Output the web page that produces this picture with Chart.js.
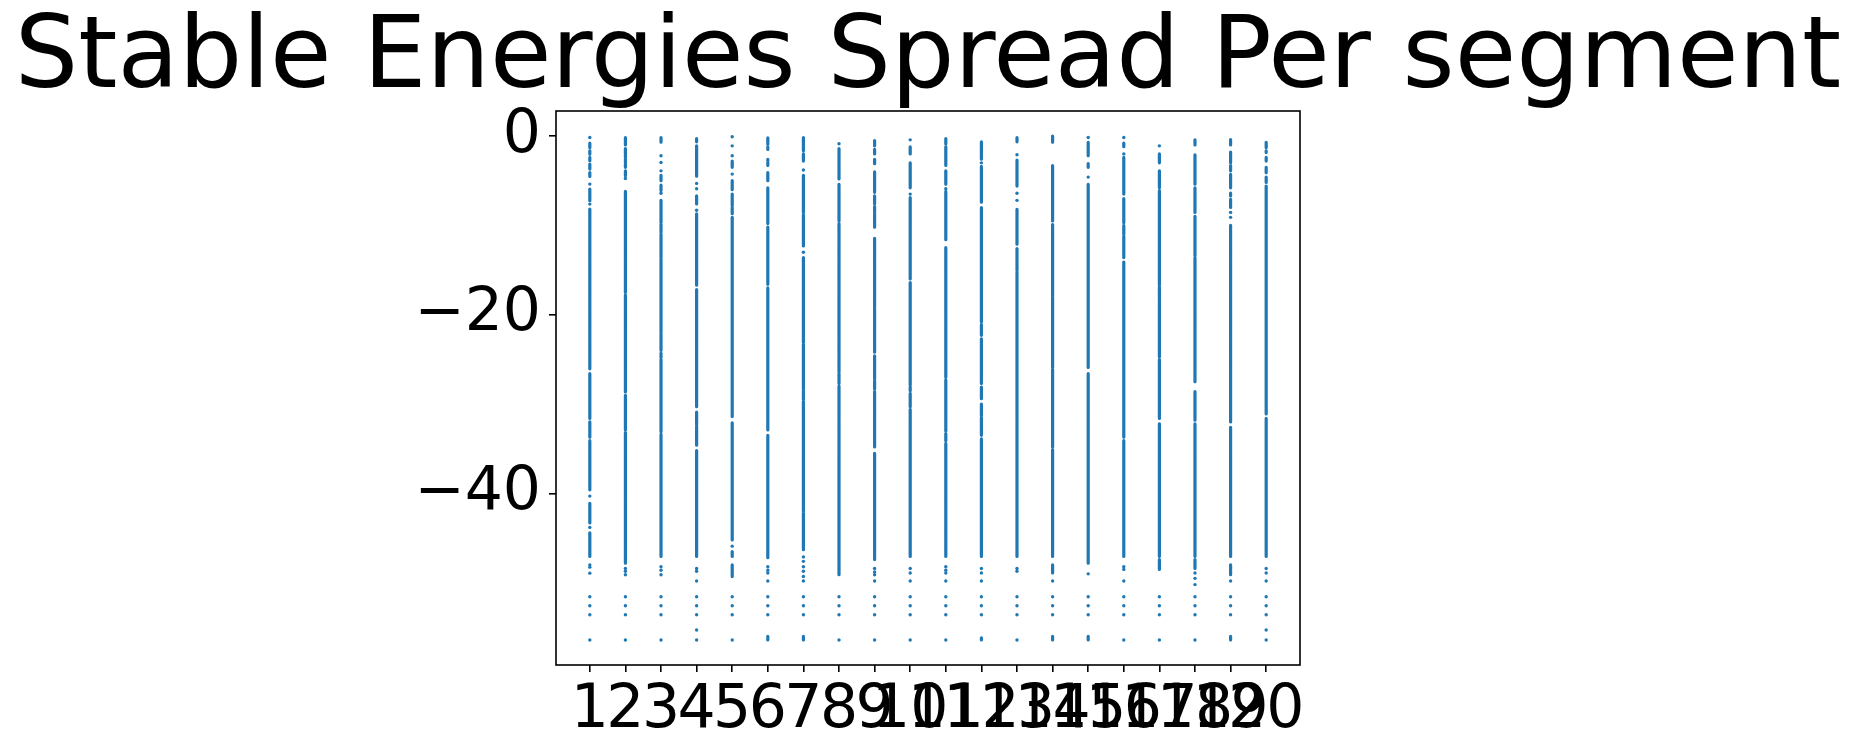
<!DOCTYPE html>
<html><head><meta charset="utf-8">
<script src="https://cdn.jsdelivr.net/npm/chart.js@4.4.1/dist/chart.umd.min.js"></script>
<style>html,body{margin:0;padding:0;background:#fff}</style>
</head><body>
<canvas id="c" width="1856" height="755"></canvas>
<script>
const titleText = 'Stable Energies Spread Per segment';
const segments = [1,2,3,4,5,6,7,8,9,10,11,12,13,14,15,16,17,18,19,20];
const xTicks = [1,2,3,4,5,6,7,8,9,10,11,12,13,14,15,16,17,18,19,20];
const yTicks = [-40,-20,0];

// dense stretches of energies per segment: [upper, lower]
const denseRuns = [
 [[-0.8,-1.3],[-1.66,-2.03],[-2.4,-2.77],[-3.15,-3.7],[-4.08,-4.52],[-5.94,-7.24],[-8.17,-26.05],[-26.6,-31.6],[-32.0,-33.7],[-34.1,-39.6],[-41.1,-43.3],[-44.4,-47.06]],
 [[-0.17,-1.0],[-1.4,-2.4],[-2.6,-3.0],[-3.15,-3.5],[-3.9,-4.45],[-6.2,-17.5],[-17.8,-28.65],[-29.03,-32.9],[-33.2,-47.8]],
 [[-0.17,-0.7],[-4.4,-5.0],[-5.5,-6.1],[-7.2,-9.7],[-9.9,-10.8],[-11.0,-13.65],[-13.8,-22.0],[-22.1,-24.0],[-24.3,-24.8],[-25.0,-33.1],[-33.4,-47.06]],
 [[-0.3,-0.65],[-1.1,-4.5],[-6.7,-7.6],[-8.7,-16.7],[-17.2,-30.3],[-30.9,-32.3],[-32.5,-34.6],[-35.2,-47.06]],
 [[-2.8,-3.5],[-5.0,-6.0],[-6.5,-7.8],[-8.0,-8.7],[-9.1,-31.4],[-32.1,-45.2],[-46.5,-47.06],[-48.0,-49.3]],
 [[-0.2,-0.95],[-1.25,-1.5],[-2.6,-2.8],[-3.0,-3.3],[-4.1,-5.0],[-5.8,-9.8],[-10.2,-16.6],[-17.0,-32.9],[-33.5,-47.2],[-56.0,-56.4]],
 [[-0.17,-1.66],[-2.0,-2.8],[-4.4,-8.55],[-8.8,-12.3],[-13.6,-23.1],[-23.3,-28.3],[-28.5,-29.5],[-29.7,-42.0],[-42.2,-46.3],[-56.0,-56.4]],
 [[-1.4,-4.8],[-5.4,-9.5],[-9.8,-26.4],[-26.6,-27.7],[-28.0,-49.1]],
 [[-0.5,-1.1],[-1.5,-2.0],[-2.6,-3.1],[-4.0,-6.3],[-6.7,-7.6],[-7.9,-8.55],[-8.7,-10.2],[-11.45,-19.2],[-19.3,-24.2],[-24.6,-27.2],[-27.4,-28.3],[-28.6,-34.8],[-35.5,-47.4]],
 [[-1.2,-2.0],[-3.0,-5.8],[-6.9,-16.0],[-16.4,-25.0],[-25.1,-27.9],[-28.1,-28.5],[-28.8,-30.3],[-30.6,-47.06]],
 [[-0.3,-0.9],[-1.2,-3.3],[-3.9,-5.4],[-6.2,-11.6],[-12.5,-27.0],[-27.3,-33.0],[-33.3,-34.1],[-34.4,-47.06]],
 [[-0.65,-2.6],[-3.4,-7.4],[-8.0,-20.8],[-21.1,-22.3],[-22.7,-27.7],[-28.1,-29.4],[-30.0,-31.3],[-31.5,-33.5],[-33.9,-47.06],[-56.15,-56.4]],
 [[-0.17,-0.65],[-2.7,-5.6],[-8.2,-12.1],[-12.6,-15.1],[-15.25,-47.06]],
 [[0.0,-0.7],[-3.3,-9.5],[-9.9,-17.85],[-18.0,-25.9],[-26.1,-34.8],[-35.1,-47.06],[-48.0,-48.9],[-56.0,-56.4]],
 [[-0.7,-2.2],[-3.1,-3.5],[-5.4,-25.9],[-26.6,-47.8],[-56.0,-56.4]],
 [[-0.8,-1.2],[-2.4,-6.5],[-7.0,-9.7],[-10.0,-11.0],[-11.2,-13.6],[-14.1,-33.7],[-34.1,-47.06]],
 [[-2.0,-3.0],[-3.9,-5.8],[-6.1,-16.7],[-16.9,-18.6],[-18.7,-24.7],[-25.0,-31.6],[-32.2,-47.06],[-47.4,-48.5]],
 [[-0.43,-1.0],[-2.1,-5.4],[-5.8,-8.55],[-9.0,-13.4],[-13.6,-27.5],[-28.6,-31.8],[-32.2,-47.06],[-47.4,-48.4]],
 [[-0.4,-1.0],[-1.8,-3.0],[-3.3,-3.9],[-4.3,-5.8],[-6.4,-6.7],[-7.1,-8.0],[-10.0,-32.0],[-32.6,-47.06],[-48.0,-49.1],[-56.0,-56.4]],
 [[-0.7,-1.3],[-1.65,-1.85],[-2.4,-2.8],[-3.5,-4.1],[-4.6,-5.2],[-5.6,-31.1],[-31.6,-47.06]]
];

// isolated energies per segment
const sparseEnergies = [
 [-0.17,-5.38,-7.62,-40.3,-43.8,-47.99,-48.25,-48.92,-51.56,-52.57,-53.57,-56.4],
 [-4.75,-48.4,-48.7,-49.1,-51.56,-52.57,-53.57,-56.4],
 [-2.2,-2.96,-3.9,-6.4,-48.2,-48.6,-49.1,-51.56,-52.57,-53.57,-56.4],
 [-5.3,-5.9,-8.3,-48.4,-48.7,-49.8,-51.56,-52.57,-53.57,-55.29,-56.4],
 [-0.09,-1.1,-2.2,-4.26,-45.9,-51.56,-52.57,-53.57,-56.4],
 [-48.2,-48.6,-48.9,-49.8,-51.56,-52.57,-53.57],
 [-3.8,-13.0,-47.1,-47.6,-48.2,-48.7,-49.3,-49.8,-51.56,-52.57,-53.57],
 [-0.87,-51.56,-52.57,-53.57,-56.4],
 [-48.4,-48.8,-49.1,-49.8,-51.56,-52.57,-53.57,-56.4],
 [-0.43,-6.5,-48.4,-48.9,-49.8,-51.56,-52.57,-53.57,-56.4],
 [-5.9,-48.2,-48.6,-48.9,-49.8,-51.56,-52.57,-53.57,-56.4],
 [-3.0,-48.4,-48.9,-49.8,-51.56,-52.57,-53.57],
 [-2.1,-6.4,-7.2,-48.4,-48.7,-51.56,-52.57,-53.57,-56.4],
 [-49.8,-51.56,-52.57,-53.57],
 [-0.17,-4.6,-49.0,-51.56,-52.57,-53.57],
 [-0.17,-2.0,-48.2,-48.5,-49.8,-51.56,-52.57,-53.57,-56.4],
 [-1.1,-51.56,-52.57,-53.57,-56.4],
 [-48.9,-49.5,-50.2,-51.56,-52.57,-53.57,-56.4],
 [-8.55,-9.1,-49.8,-51.56,-52.57,-53.57],
 [-48.4,-48.9,-49.8,-51.56,-52.57,-53.57,-55.29,-56.4]
];

const blue = '#1f77b4';
const runData = [];
segments.forEach((s, i) => {
  denseRuns[i].forEach(([a, b]) => {
    runData.push({x: s, y: a}, {x: s, y: b}, {x: s, y: null});
  });
});
const dotData = [];
segments.forEach((s, i) => {
  sparseEnergies[i].forEach(v => dotData.push({x: s, y: v}));
});

const framePlugin = {
  id: 'frame',
  afterDraw(chart) {
    const {ctx, chartArea: a} = chart;
    ctx.save();
    ctx.strokeStyle = '#000';
    ctx.lineWidth = 1.6;
    ctx.strokeRect(a.left, a.top, a.right - a.left, a.bottom - a.top);
    ctx.restore();
  }
};

const tickFont = {family: 'DejaVu Sans', size: 60, lineHeight: 1.2};
new Chart(document.getElementById('c'), {
  type: 'scatter',
  data: {
    datasets: [
      {type: 'line', data: runData, borderColor: blue, borderWidth: 3.2, borderCapStyle: 'round',
       pointRadius: 0, spanGaps: false, fill: false, tension: 0},
      {type: 'scatter', data: dotData, backgroundColor: blue, borderColor: blue, borderWidth: 0, pointRadius: 1.7}
    ]
  },
  options: {
    responsive: false, animation: false, devicePixelRatio: 1,
    layout: {padding: 0},
    plugins: {
      legend: {display: false}, tooltip: {enabled: false},
      title: {display: true, text: titleText, color: '#000', align: 'center',
        font: {family: 'DejaVu Sans', size: 100, weight: 'normal', lineHeight: 1},
        padding: {top: 11, bottom: 0}}
    },
    scales: {
      x: {
        type: 'linear', min: 0.05, max: 20.95,
        afterBuildTicks: s => { s.ticks = xTicks.map(v => ({value: v})); },
        afterFit: s => { s.height = 90; },
        grid: {drawOnChartArea: false, drawTicks: true, tickLength: 7, color: '#000', lineWidth: 1.6},
        border: {display: false},
        ticks: {color: '#000', font: tickFont, padding: 3, autoSkip: false, maxRotation: 0, minRotation: 0,
          callback: v => String(v)}
      },
      y: {
        type: 'linear', min: -59.2, max: 2.8,
        afterBuildTicks: s => { s.ticks = yTicks.map(v => ({value: v})); },
        afterFit: s => { s.width = 556; },
        grid: {drawOnChartArea: false, drawTicks: true, tickLength: 7, color: '#000', lineWidth: 1.6},
        border: {display: false},
        ticks: {color: '#000', font: tickFont, padding: 8, autoSkip: false,
          callback: v => v < 0 ? '\u2212' + Math.abs(v) : String(v)}
      },
      yRightSpace: {
        type: 'linear', position: 'right', min: 0, max: 1,
        afterFit: s => { s.width = 556; },
        grid: {display: false}, border: {display: false},
        ticks: {display: false}
      }
    }
  },
  plugins: [framePlugin]
});
</script>
</body></html>
